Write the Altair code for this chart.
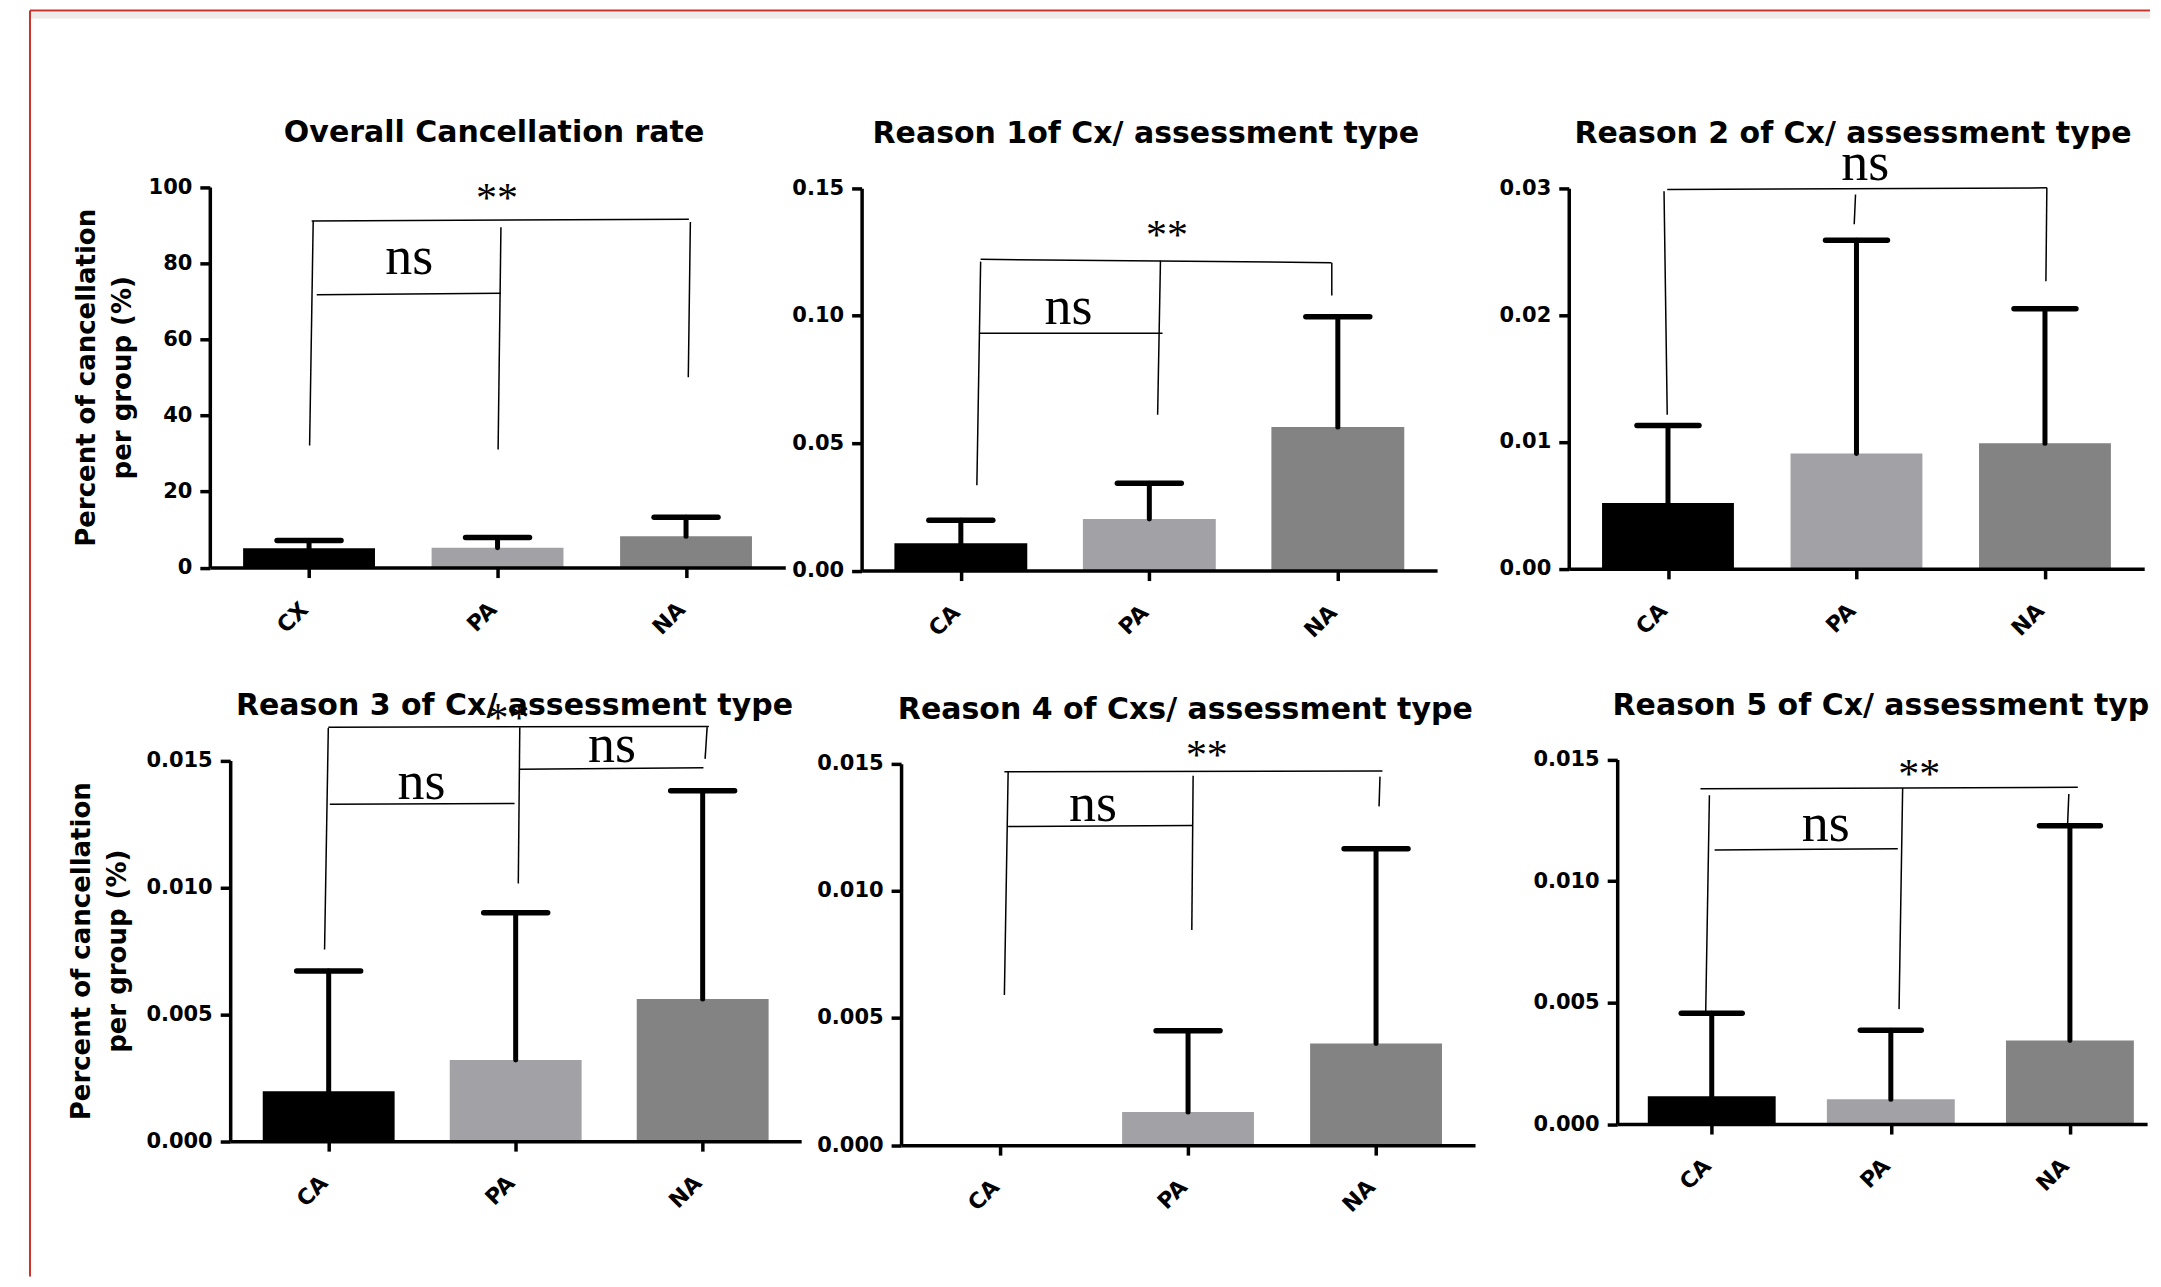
import altair as alt
import pandas as pd

SANS = "DejaVu Sans"
SERIF = "Liberation Serif"

# ---------------- data ----------------
panel_titles = [
    "Overall Cancellation rate",
    "Reason 1of Cx/ assessment type",
    "Reason 2 of Cx/ assessment type",
    "Reason 3 of Cx/ assessment type",
    "Reason 4 of Cxs/ assessment type",
    "Reason 5 of Cx/ assessment type",
]
y_title = ["Percent of cancellation", "per group (%)"]

overall_cats = ["CX", "PA", "NA"]
reason_cats = ["CA", "PA", "NA"]

# bar height (mean) and top of the error whisker
overall_mean = [5.1, 5.2, 8.2]
overall_upper = [7.1, 7.9, 13.2]
reason1_mean = [0.0107, 0.0202, 0.0563]
reason1_upper = [0.0197, 0.0343, 0.0996]
reason2_mean = [0.0052, 0.0091, 0.0099]
reason2_upper = [0.0113, 0.0259, 0.0205]
reason3_mean = [0.00197, 0.0032, 0.0056]
reason3_upper = [0.0067, 0.0090, 0.0138]
reason4_mean = [0.0, 0.0013, 0.0040]
reason4_upper = [0.0, 0.0045, 0.01165]
reason5_mean = [0.00114, 0.00102, 0.00344]
reason5_upper = [0.00456, 0.00386, 0.01228]

# y axis tick values
overall_ticks = [0, 20, 40, 60, 80, 100]
reason1_ticks = [0, 0.05, 0.10, 0.15]
reason2_ticks = [0, 0.01, 0.02, 0.03]
small_ticks = [0, 0.005, 0.010, 0.015]

# significance brackets: (x1, y1, x2, y2); x in category units (0.5 = first bar centre)
overall_brackets = [
    (0.514, 91.1, 2.515, 91.5),
    (0.522, 91.1, 0.503, 32.1),
    (1.518, 89.4, 1.503, 31.0),
    (2.523, 90.8, 2.512, 50.0),
    (0.541, 71.7, 1.518, 72.1),
]
overall_marks = [("**", 1.497, 98.7), ("ns", 1.031, 80.3)]

reason1_brackets = [
    (0.605, 0.1221, 2.466, 0.1208),
    (0.605, 0.1212, 0.585, 0.0335),
    (1.559, 0.1216, 1.544, 0.0611),
    (2.468, 0.1208, 2.468, 0.1079),
    (0.596, 0.0931, 1.570, 0.0931),
]
reason1_marks = [("**", 1.594, 0.1339), ("ns", 1.071, 0.1016)]

reason2_brackets = [
    (0.496, 0.0299, 2.510, 0.03003),
    (0.479, 0.02977, 0.496, 0.01214),
    (1.495, 0.02951, 1.488, 0.02716),
    (2.510, 0.03003, 2.505, 0.02266),
]
reason2_marks = [("ns", 1.547, 0.0316)]

reason3_brackets = [
    (0.498, 0.01631, 2.533, 0.01634),
    (0.498, 0.01628, 0.478, 0.00755),
    (1.522, 0.01631, 1.514, 0.01015),
    (2.524, 0.01631, 2.513, 0.01506),
    (0.506, 0.01327, 1.494, 0.01330),
    (1.522, 0.01465, 2.504, 0.01471),
]
reason3_marks = [("**", 1.462, 0.01691), ("ns", 0.996, 0.01394), ("ns", 2.015, 0.01542)]

reason4_brackets = [
    (0.523, 0.01468, 2.534, 0.01471),
    (0.543, 0.01468, 0.523, 0.0059),
    (1.527, 0.01452, 1.520, 0.00846),
    (2.521, 0.01449, 2.516, 0.01332),
    (0.543, 0.01253, 1.524, 0.01257),
]
reason4_marks = [("**", 1.60, 0.01556), ("ns", 0.994, 0.01323)]

reason5_brackets = [
    (0.437, 0.0138, 2.544, 0.01386),
    (0.487, 0.01353, 0.466, 0.00448),
    (1.566, 0.01383, 1.546, 0.00473),
    (2.494, 0.01358, 2.487, 0.01233),
    (0.516, 0.01128, 1.539, 0.01133),
]
reason5_marks = [("**", 1.658, 0.01467), ("ns", 1.137, 0.01216)]

# ---------------- style / layout ----------------
BAR_COLORS = ["#000000", "#a2a1a6", "#838383"]
FRAME_RED = "#c8332b"
MARGIN = 8                     # page margin around the svg
TOTAL_W, TOTAL_H = 2145, 1271  # one big plot area; each panel gets its own scale ranges

# ax: page x of the y axis, top/bottom: page y of the y range, step: px per category
LAYOUTS = [
    dict(ax=210.0, top=186.6, bottom=567.5, step=192.0, xmax=3.0, bar=132, cap=64, fmt=".0f", tx=-123.4),
    dict(ax=862.4, top=187.8, bottom=570.5, step=192.0, xmax=3.0, bar=133, cap=64, fmt=".2f", tx=None),
    dict(ax=1570.2, top=187.8, bottom=568.8, step=192.0, xmax=3.0, bar=132, cap=62, fmt=".2f", tx=None),
    dict(ax=230.4, top=760.5, bottom=1141.6, step=190.5, xmax=3.0, bar=132, cap=64, fmt=".3f", tx=-148.8),
    dict(ax=901.9, top=763.75, bottom=1145.6, step=191.5, xmax=3.0, bar=132, cap=64, fmt=".3f", tx=None),
    dict(ax=1618.7, top=759.7, bottom=1124.5, step=182.7, xmax=2.903, bar=128, cap=61, fmt=".3f", tx=None),
]


def make_panel(idx, cats, means, uppers, ticks, brackets, marks):
    lay = LAYOUTS[idx]
    x0 = lay["ax"] - MARGIN
    x1 = x0 + lay["xmax"] * lay["step"]
    yb = lay["bottom"] - MARGIN
    yt = lay["top"] - MARGIN
    xs = alt.Scale(domain=[0, lay["xmax"]], range=[x0, x1], nice=False, zero=False)
    ys = alt.Scale(domain=[0, ticks[-1]], range=[yb, yt], nice=False, zero=False)

    df = pd.DataFrame({
        "pos": [i + 0.5 for i in range(len(cats))],
        "cat": cats,
        "mean": means,
        "upper": uppers,
        "color": BAR_COLORS,
    })
    label_expr = "[" + ",".join("'%s'" % c for c in cats) + "][floor(datum.value)]"

    xaxis = alt.Axis(
        orient="bottom", offset=-(TOTAL_H - yb), zindex=1,
        values=[i + 0.5 for i in range(len(cats))], labelExpr=label_expr,
        domain=True, domainColor="black", domainWidth=3.5,
        grid=False, ticks=True, tickSize=10, tickWidth=3.5, tickColor="black",
        labelAngle=315, labelAlign="right", labelBaseline="middle", labelPadding=28,
        labelOffset=-5,
        labelFont=SANS, labelFontSize=22, labelFontWeight="bold", labelColor="black",
        labelFlush=False, labelOverlap=False, title=None,
    )
    ykw = dict(
        orient="left", offset=-x0, zindex=1,
        values=ticks, format=lay["fmt"], domain=True, domainColor="black", domainWidth=3.5,
        grid=False, tickSize=10, tickWidth=3.5, tickColor="black", labelPadding=8,
        labelFont=SANS, labelFontSize=21, labelFontWeight="bold", labelColor="black",
        labelFlush=False, labelOverlap=False,
    )
    if lay["tx"] is not None:
        ykw.update(
            title=y_title, titleFont=SANS, titleFontSize=26, titleFontWeight="bold",
            titleColor="black", titleAngle=270, titleAlign="center", titleBaseline="middle",
            titleX=lay["tx"], titleY=(yt + yb) / 2, titleLineHeight=36,
        )
    else:
        ykw.update(title=None)
    yaxis = alt.Axis(**ykw)

    def X(field):
        return alt.X(field, scale=xs, axis=xaxis)

    def Y(field):
        return alt.Y(field, scale=ys, axis=yaxis)

    base = alt.Chart(df)
    bars = base.mark_bar(size=lay["bar"]).encode(
        x=X("pos:Q"), y=Y("mean:Q"), color=alt.Color("color:N", scale=None),
    )
    err = base.transform_filter("datum.upper > datum.mean")
    stems = err.mark_rule(color="black", strokeWidth=5, strokeCap="round").encode(
        x=X("pos:Q"), y=Y("mean:Q"), y2="upper:Q",
    )
    half = lay["cap"] / 2
    caps = err.mark_rule(color="black", strokeWidth=5.5, strokeCap="round",
                         xOffset=-half, x2Offset=half).encode(
        x=X("pos:Q"), x2="pos:Q", y=Y("upper:Q"),
    )
    bdf = pd.DataFrame(brackets, columns=["x1", "y1", "x2", "y2"])
    br = alt.Chart(bdf).mark_rule(color="black", strokeWidth=1.5).encode(
        x=X("x1:Q"), x2="x2:Q", y=Y("y1:Q"), y2="y2:Q",
    )
    mdf = pd.DataFrame(marks, columns=["txt", "x", "y"])
    ns = alt.Chart(mdf).transform_filter("datum.txt == 'ns'").mark_text(
        font=SERIF, fontSize=54, baseline="middle", align="center", dy=-4, color="black"
    ).encode(x=X("x:Q"), y=Y("y:Q"), text="txt:N")
    stars = alt.Chart(mdf).transform_filter("datum.txt == '**'").mark_text(
        font=SERIF, fontSize=42, baseline="middle", align="center", dy=7, color="black"
    ).encode(x=X("x:Q"), y=Y("y:Q"), text="txt:N")

    tdf = pd.DataFrame({"t": [panel_titles[idx]]})
    if idx == 5:
        title = alt.Chart(tdf).mark_text(
            font=SANS, fontSize=30, fontWeight="bold", align="left", baseline="alphabetic",
            color="black", limit=2152 - 1614, ellipsis="\u200b",
        ).encode(x=alt.value(1614 - MARGIN), y=alt.value(yt - 45), text="t:N")
    else:
        title = alt.Chart(tdf).mark_text(
            font=SANS, fontSize=30, fontWeight="bold", align="center", baseline="alphabetic",
            color="black",
        ).encode(x=alt.value(x0 + 284.5), y=alt.value(yt - 45), text="t:N")

    return alt.layer(bars, stems, caps, br, ns, stars, title)


# page frame (decoration)
one = pd.DataFrame({"k": [0]})
frame = [
    alt.Chart(one).mark_rule(color="#eeebe8", strokeWidth=6).encode(
        x=alt.value(23), x2=alt.value(2144), y=alt.value(7)),
    alt.Chart(one).mark_rule(color=FRAME_RED, strokeWidth=2).encode(
        x=alt.value(22), y=alt.value(2), y2=alt.value(1269)),
    alt.Chart(one).mark_rule(color=FRAME_RED, strokeWidth=2).encode(
        x=alt.value(22), x2=alt.value(2144), y=alt.value(2)),
]

p1 = make_panel(0, overall_cats, overall_mean, overall_upper, overall_ticks,
                overall_brackets, overall_marks)
p2 = make_panel(1, reason_cats, reason1_mean, reason1_upper, reason1_ticks,
                reason1_brackets, reason1_marks)
p3 = make_panel(2, reason_cats, reason2_mean, reason2_upper, reason2_ticks,
                reason2_brackets, reason2_marks)
p4 = make_panel(3, reason_cats, reason3_mean, reason3_upper, small_ticks,
                reason3_brackets, reason3_marks)
p5 = make_panel(4, reason_cats, reason4_mean, reason4_upper, small_ticks,
                reason4_brackets, reason4_marks)
p6 = make_panel(5, reason_cats, reason5_mean, reason5_upper, small_ticks,
                reason5_brackets, reason5_marks)

chart = alt.layer(*frame, p1, p2, p3, p4, p5, p6).resolve_scale(
    x="independent", y="independent"
).resolve_axis(
    x="independent", y="independent"
).properties(
    width=TOTAL_W, height=TOTAL_H, padding=0, background="#ffffff",
).configure_view(strokeWidth=0)

chart.save("out.html", embed_options={"renderer": "svg", "actions": False})
